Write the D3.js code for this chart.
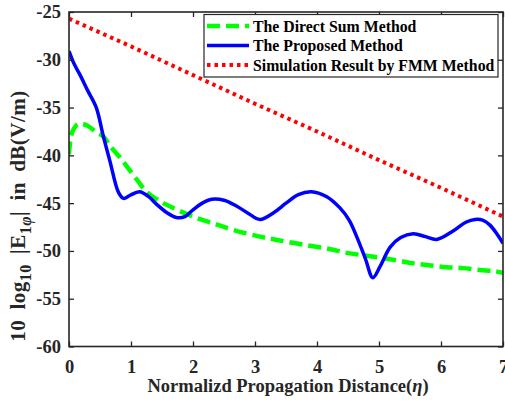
<!DOCTYPE html>
<html><head><meta charset="utf-8">
<script src="https://cdn.jsdelivr.net/npm/d3@7"></script>
<style>body{margin:0;background:#fff}svg{display:block}</style>
</head><body><svg id="c" width="505" height="404"></svg>
<script>
const xTicks = [0,1,2,3,4,5,6,7];
const yTicks = [-25,-30,-35,-40,-45,-50,-55,-60];
const seriesNames = ["The Direct Sum Method","The Proposed Method","Simulation Result by FMM Method"];

const directEta = [0,0.05,0.15,0.3,0.45,0.55,0.66,0.82,0.95,1.09,1.25,1.47,1.68,2.0,2.32,2.65,3.08,3.4,3.83,4.2,4.48,4.8,5.02,5.3,5.55,5.8,6.09,6.35,6.63,6.85,7.0];
const directVal = [-39.9,-37.6,-36.7,-36.9,-37.65,-38.0,-39.0,-40.2,-41.3,-42.5,-43.8,-44.8,-45.5,-46.4,-47.1,-47.8,-48.5,-48.9,-49.4,-49.8,-50.2,-50.5,-50.7,-51.0,-51.3,-51.5,-51.7,-51.8,-52.0,-52.1,-52.3];

const proposedEta = [0,0.08,0.18,0.3,0.44,0.55,0.66,0.8,0.88,0.98,1.14,1.28,1.41,1.58,1.73,1.87,2.0,2.15,2.3,2.5,2.7,2.9,3.08,3.3,3.5,3.7,3.91,4.15,4.37,4.52,4.64,4.78,4.9,5.02,5.18,5.35,5.55,5.75,5.93,6.2,6.4,6.55,6.68,6.79,6.9,7.0];
const proposedVal = [-29.1,-30.4,-31.6,-33.2,-35.0,-37.9,-40.6,-43.9,-44.5,-44.2,-43.8,-44.3,-45.1,-46.0,-46.5,-46.4,-45.7,-45.0,-44.6,-44.7,-45.3,-46.1,-46.7,-46.0,-45.0,-44.1,-43.8,-44.3,-45.5,-46.8,-48.5,-50.8,-52.8,-51.6,-49.6,-48.6,-48.2,-48.5,-48.8,-47.9,-47.0,-46.7,-46.8,-47.3,-48.2,-49.2];

const fmmEta = [0,1,2,3,4,5,6,7];
const fmmVal = [-25.7,-28.6,-31.6,-34.6,-37.5,-40.5,-43.4,-46.4];

const FONT = "Liberation Serif";
const svg = d3.select("#c");
const L=69, R=503, T=12, B=346.5;
const x = d3.scaleLinear().domain([0,7]).range([L,R]);
const y = d3.scaleLinear().domain([-60,-25]).range([B,T]);
const ax = "#262626";

svg.append("clipPath").attr("id","cp").append("rect").attr("x",L).attr("y",T).attr("width",R-L).attr("height",B-T);
const g = svg.append("g").attr("clip-path","url(#cp)");
const line = d3.line().x(d=>x(d[0])).y(d=>y(d[1])).curve(d3.curveCatmullRom.alpha(0.5));
const lineLin = d3.line().x(d=>x(d[0])).y(d=>y(d[1]));

g.append("path").datum(fmmEta.map((e,i)=>[e,fmmVal[i]])).attr("d",lineLin)
  .attr("fill","none").attr("stroke","#ff0000").attr("stroke-width",4).attr("stroke-dasharray","3.5,4");
g.append("path").datum(directEta.map((e,i)=>[e,directVal[i]])).attr("d",line)
  .attr("fill","none").attr("stroke","#00ff00").attr("stroke-width",4.5).attr("stroke-dasharray","13,6");
g.append("path").datum(proposedEta.map((e,i)=>[e,proposedVal[i]])).attr("d",line)
  .attr("fill","none").attr("stroke","#0000ff").attr("stroke-width",3.5).attr("stroke-linejoin","round");

// axes
const fs = 18.5;
const xa = svg.append("g").attr("transform",`translate(0,${B})`)
  .call(d3.axisBottom(x).tickValues(xTicks).tickSize(-5).tickPadding(13).tickFormat(d3.format("d")));
const xt = svg.append("g").attr("transform",`translate(0,${T})`)
  .call(d3.axisTop(x).tickValues(xTicks).tickSize(-5).tickFormat(""));
const ya = svg.append("g").attr("transform",`translate(${L},0)`)
  .call(d3.axisLeft(y).tickValues(yTicks).tickSize(-5).tickPadding(8).tickFormat(d=>d));
const yr = svg.append("g").attr("transform",`translate(${R},0)`)
  .call(d3.axisRight(y).tickValues(yTicks).tickSize(-5).tickFormat(""));
[xa,xt,ya,yr].forEach(a=>{
  a.attr("font-family",FONT);
  a.selectAll(".domain").remove();
  a.selectAll("line").attr("stroke",ax).attr("stroke-width",1.3);
  a.selectAll("text").attr("fill",ax).style("font-size",fs+"px").style("font-family",FONT).style("font-weight","bold");
});
svg.append("rect").attr("x",L).attr("y",T).attr("width",R-L).attr("height",B-T)
  .attr("fill","none").attr("stroke",ax).attr("stroke-width",1.6);

// axis labels
const xl = svg.append("text").attr("x",(L+R)/2+2).attr("y",392).attr("text-anchor","middle")
  .style("font-family",FONT).style("font-weight","bold").style("font-size","18.5px").attr("fill",ax);
xl.append("tspan").text("Normalizd Propagation Distance(");
xl.append("tspan").style("font-style","italic").text("η");
xl.append("tspan").text(")");

const yl = svg.append("text").attr("transform","translate(25,216) rotate(-90)").attr("text-anchor","middle")
  .style("letter-spacing","0.5px").style("word-spacing","4.5px")
  .style("font-family",FONT).style("font-weight","bold").style("font-size","21px").attr("fill",ax);
yl.append("tspan").text("10 log");
yl.append("tspan").attr("dy",6).style("font-size","16px").text("10");
yl.append("tspan").attr("dy",-6).text(" |E");
yl.append("tspan").attr("dy",6).style("font-size","16px").text("1");
yl.append("tspan").style("font-size","16px").style("font-style","italic").text("φ");
yl.append("tspan").attr("dy",-6).text("| in dB(V/m)");

// legend
const lg = svg.append("g");
lg.append("rect").attr("x",204).attr("y",14.5).attr("width",294).attr("height",62.5)
  .attr("fill","#fff").attr("stroke",ax).attr("stroke-width",1.2);
const legStyles = [
  {c:"#00ff00",w:4.5,d:"13,6"},
  {c:"#0000ff",w:3.5,d:null},
  {c:"#ff0000",w:4,d:"3.5,4"}
];
seriesNames.forEach((n,i)=>{
  const yy = 26 + i*19.5;
  const l = lg.append("line").attr("x1",207).attr("x2",249).attr("y1",yy).attr("y2",yy)
    .attr("stroke",legStyles[i].c).attr("stroke-width",legStyles[i].w);
  if(legStyles[i].d) l.attr("stroke-dasharray",legStyles[i].d);
  lg.append("text").attr("x",253).attr("y",yy+5.5).style("font-family",FONT).style("font-weight","bold")
    .style("font-size","15.8px").attr("fill","#000").text(n);
});
</script></body></html>
